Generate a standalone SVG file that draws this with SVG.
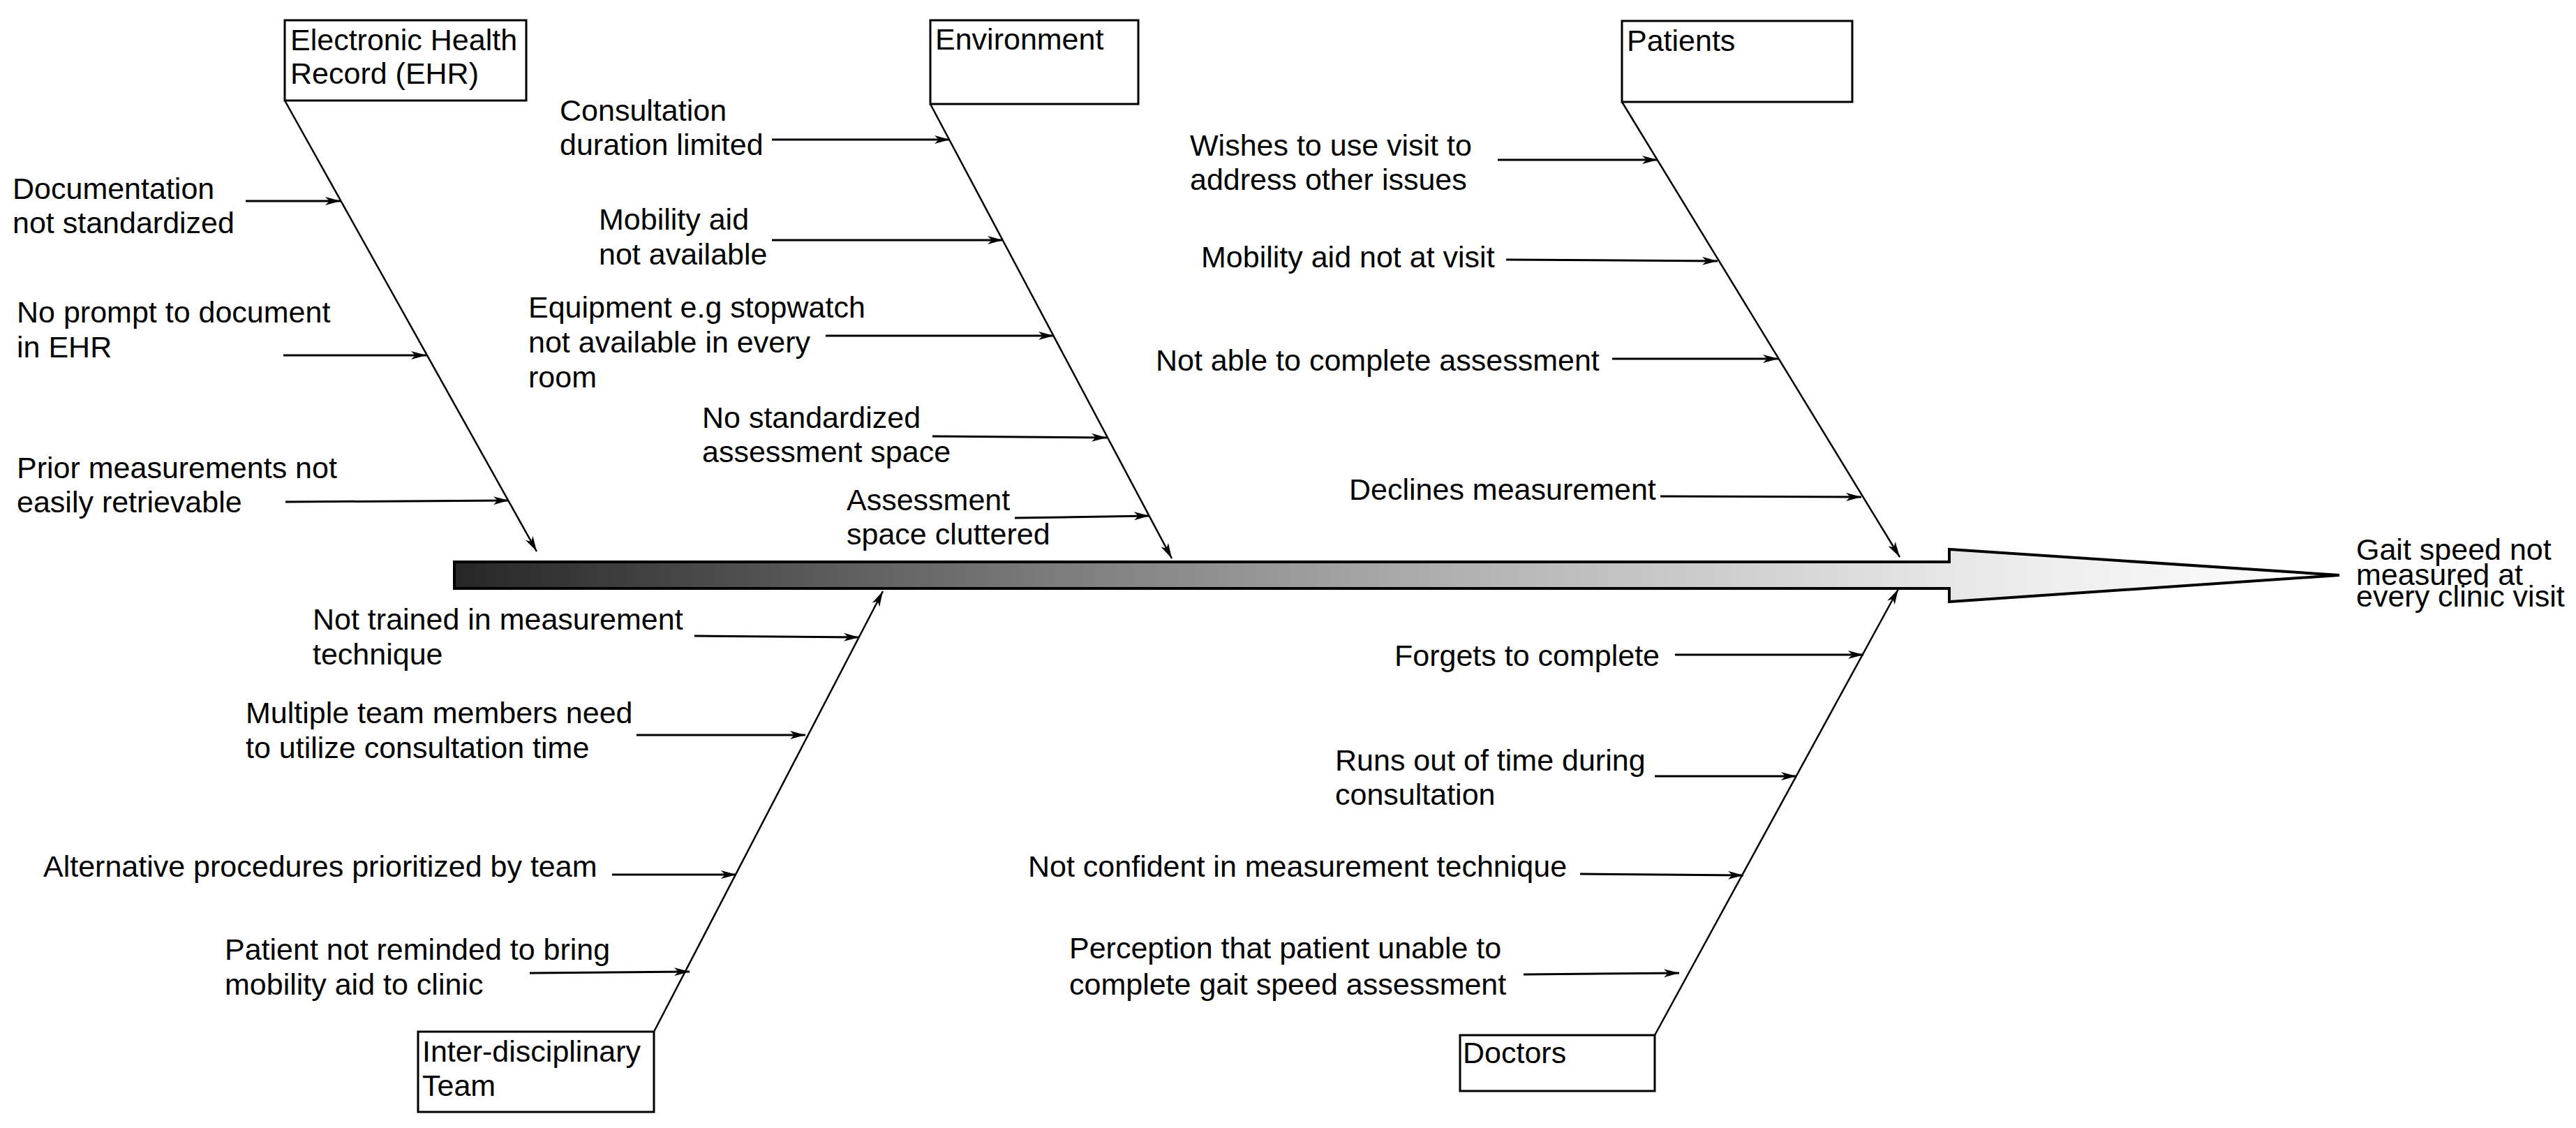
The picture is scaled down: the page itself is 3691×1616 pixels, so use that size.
<svg xmlns="http://www.w3.org/2000/svg" width="3691" height="1616" viewBox="0 0 3691 1616">
<style>
text{font-family:"Liberation Sans",Arial,sans-serif;font-size:43px;fill:#000}
.box{fill:#fff;stroke:#000;stroke-width:3}
.bone{stroke:#000;stroke-width:2.5;fill:none;marker-end:url(#ah)}
.cause{stroke:#000;stroke-width:3;fill:none;marker-end:url(#ah)}
</style>
<defs>
<marker id="ah" markerUnits="userSpaceOnUse" markerWidth="24" markerHeight="12" refX="22" refY="6" orient="auto">
<path d="M0,0 L22,6 L0,12 L6,6 Z" fill="#000"/>
</marker>
<linearGradient id="spineGrad" gradientUnits="userSpaceOnUse" x1="651" y1="0" x2="3352" y2="0">
<stop offset="0" stop-color="#262626"/>
<stop offset="0.3" stop-color="#777"/>
<stop offset="0.55" stop-color="#b5b5b5"/>
<stop offset="0.8" stop-color="#e8e8e8"/>
<stop offset="1" stop-color="#fff"/>
</linearGradient>
</defs>
<rect width="3691" height="1616" fill="#fff"/>

<g id="spine">
<polygon points="651,805 2793,805 2793,787 3352,824 2793,862 2793,843 651,843" fill="url(#spineGrad)" stroke="#000" stroke-width="4"/>
</g>

<g id="effect">
<text x="3376" y="802">Gait speed not</text>
<text x="3376" y="838">measured at</text>
<text x="3376" y="869">every clinic visit</text>
</g>

<g id="connectors">
<!-- main bones -->
<line class="bone" x1="408" y1="144" x2="769" y2="790"/>
<line class="bone" x1="1333" y1="149" x2="1679" y2="800"/>
<line class="bone" x1="2324" y1="146" x2="2722" y2="798"/>
<line class="bone" x1="937" y1="1478" x2="1265" y2="847"/>
<line class="bone" x1="2371" y1="1483" x2="2720" y2="844"/>
<!-- EHR causes -->
<line class="cause" x1="352" y1="288" x2="488" y2="288"/>
<line class="cause" x1="406" y1="509" x2="611" y2="509"/>
<line class="cause" x1="409" y1="719" x2="729" y2="717"/>
<!-- Environment causes -->
<line class="cause" x1="1106" y1="200" x2="1361" y2="200"/>
<line class="cause" x1="1106" y1="344" x2="1437" y2="344"/>
<line class="cause" x1="1183" y1="481" x2="1510" y2="481"/>
<line class="cause" x1="1336" y1="625" x2="1586" y2="627"/>
<line class="cause" x1="1454" y1="742" x2="1647" y2="739"/>
<!-- Patients causes -->
<line class="cause" x1="2146" y1="229" x2="2375" y2="229"/>
<line class="cause" x1="2158" y1="372" x2="2461" y2="374"/>
<line class="cause" x1="2310" y1="514" x2="2548" y2="514"/>
<line class="cause" x1="2379" y1="711" x2="2667" y2="712"/>
<!-- Team causes -->
<line class="cause" x1="995" y1="911" x2="1231" y2="913"/>
<line class="cause" x1="912" y1="1053" x2="1154" y2="1053"/>
<line class="cause" x1="877" y1="1253" x2="1055" y2="1253"/>
<line class="cause" x1="759" y1="1394" x2="988" y2="1392"/>
<!-- Doctors causes -->
<line class="cause" x1="2400" y1="938" x2="2670" y2="938"/>
<line class="cause" x1="2371" y1="1112" x2="2574" y2="1112"/>
<line class="cause" x1="2264" y1="1252" x2="2498" y2="1254"/>
<line class="cause" x1="2183" y1="1396" x2="2406" y2="1394"/>
</g>

<g id="node-ehr">
<rect class="box" x="408" y="29" width="346" height="115"/>
<text x="416" y="72">Electronic Health</text>
<text x="416" y="120">Record (EHR)</text>
</g>
<g id="ehr-causes">
<text x="18" y="285">Documentation</text>
<text x="18" y="334">not standardized</text>
<text x="24" y="462">No prompt to document</text>
<text x="24" y="512">in EHR</text>
<text x="24" y="685">Prior measurements not</text>
<text x="24" y="734">easily retrievable</text>
</g>

<g id="node-environment">
<rect class="box" x="1333" y="29" width="298" height="120"/>
<text x="1340" y="71">Environment</text>
</g>
<g id="environment-causes">
<text x="802" y="173">Consultation</text>
<text x="802" y="222">duration limited</text>
<text x="858" y="329">Mobility aid</text>
<text x="858" y="379">not available</text>
<text x="757" y="455">Equipment e.g stopwatch</text>
<text x="757" y="505">not available  in every</text>
<text x="757" y="555">room</text>
<text x="1006" y="613">No standardized</text>
<text x="1006" y="662">assessment space</text>
<text x="1213" y="731">Assessment</text>
<text x="1213" y="780">space cluttered</text>
</g>

<g id="node-patients">
<rect class="box" x="2324" y="30" width="330" height="116"/>
<text x="2331" y="73">Patients</text>
</g>
<g id="patients-causes">
<text x="1705" y="223">Wishes to use visit to</text>
<text x="1705" y="272">address other issues</text>
<text x="1721" y="383">Mobility aid not at visit</text>
<text x="1656" y="531">Not able to complete assessment</text>
<text x="1933" y="716">Declines measurement</text>
</g>

<g id="node-team">
<rect class="box" x="599" y="1478" width="338" height="115"/>
<text x="605" y="1521">Inter-disciplinary</text>
<text x="605" y="1570">Team</text>
</g>
<g id="team-causes">
<text x="448" y="902">Not trained in measurement</text>
<text x="448" y="952">technique</text>
<text x="352" y="1036">Multiple team members need</text>
<text x="352" y="1086">to utilize  consultation time</text>
<text x="62" y="1256">Alternative procedures prioritized by team</text>
<text x="322" y="1375">Patient not reminded to bring</text>
<text x="322" y="1425">mobility aid  to clinic</text>
</g>

<g id="node-doctors">
<rect class="box" x="2092" y="1483" width="279" height="80"/>
<text x="2096" y="1523">Doctors</text>
</g>
<g id="doctors-causes">
<text x="1998" y="954">Forgets to complete</text>
<text x="1913" y="1104">Runs out of time during</text>
<text x="1913" y="1153">consultation</text>
<text x="1473" y="1256">Not confident in measurement technique</text>
<text x="1532" y="1373">Perception that patient unable to</text>
<text x="1532" y="1425">complete gait speed assessment</text>
</g>
</svg>
